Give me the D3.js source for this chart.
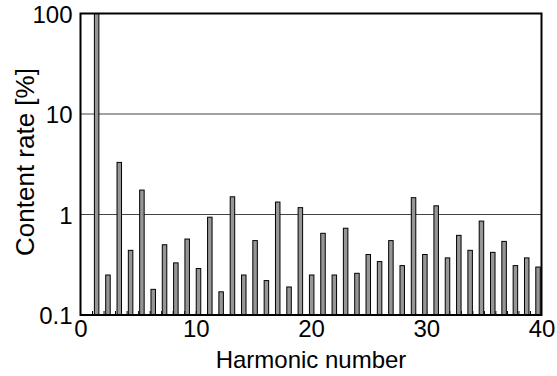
<!DOCTYPE html>
<html>
<head>
<meta charset="utf-8">
<script src="https://cdn.jsdelivr.net/npm/d3@7"></script>
<style>
  body { margin: 0; background: #fff; }
  svg text { font-family: "Liberation Sans", Arial, sans-serif; fill: #000; }
</style>
</head>
<body>
<script>
// harmonic orders and their content rate [%]
const harmonics = d3.range(1, 41);
const contentRate = [
    100, 0.25, 3.3, 0.44, 1.75, 0.18, 0.50, 0.33, 0.57, 0.29,
    0.94, 0.17, 1.50, 0.25, 0.55, 0.22, 1.33, 0.19, 1.17, 0.25,
    0.65, 0.25, 0.73, 0.26, 0.40, 0.34, 0.55, 0.31, 1.47, 0.40,
    1.22, 0.37, 0.62, 0.44, 0.86, 0.42, 0.54, 0.31, 0.37, 0.30
];
const yTicks = [0.1, 1, 10, 100];
const yTickLabels = ["0.1", "1", "10", "100"];
const xTicks = [0, 10, 20, 30, 40];
const gridValues = [1, 10];

const width = 557;
const height = 376;
const margin = {top: 13.5, right: 15.5, bottom: 61, left: 80.5};
const plotW = width - margin.left - margin.right;
const plotH = height - margin.top - margin.bottom;

const svg = d3.select("body")
    .append("svg")
    .attr("width", width)
    .attr("height", height);

const g = svg.append("g")
    .attr("transform", "translate(" + margin.left + "," + margin.top + ")");

const xScale = d3.scaleLinear()
    .domain([0, 40])
    .range([0, plotW]);

// bars sit slightly off the integer ticks in the original figure
const barScale = d3.scalePoint()
    .domain(harmonics)
    .range([xScale(1.4), xScale(39.7)]);

const yScale = d3.scaleLog()
    .domain([0.1, 100])
    .range([plotH, 0]);

// grid lines
g.selectAll(".grid")
    .data(gridValues)
    .enter().append("line")
    .attr("class", "grid")
    .attr("x1", 0)
    .attr("x2", plotW)
    .attr("y1", d => yScale(d))
    .attr("y2", d => yScale(d))
    .attr("stroke", "#444")
    .attr("stroke-width", 1);

// minor ticks at every harmonic, pointing inward
g.append("g")
    .attr("transform", "translate(0," + plotH + ")")
    .call(d3.axisBottom(xScale).tickValues(d3.range(1, 40)).tickSize(-4).tickFormat(""))
    .call(a => a.select(".domain").remove())
    .call(a => a.selectAll("line").attr("stroke", "#000"));

// bars
const barW = 4.5;
g.selectAll(".bar")
    .data(contentRate)
    .enter().append("rect")
    .attr("class", "bar")
    .attr("x", (d, i) => barScale(harmonics[i]) - barW / 2)
    .attr("width", barW)
    .attr("y", d => yScale(d))
    .attr("height", d => plotH - yScale(d))
    .attr("fill", "#969696")
    .attr("stroke", "#000")
    .attr("stroke-width", 1);

// frame
g.append("rect")
    .attr("x", 0)
    .attr("y", 0)
    .attr("width", plotW)
    .attr("height", plotH)
    .attr("fill", "none")
    .attr("stroke", "#000")
    .attr("stroke-width", 2);

// x tick labels
const xAxis = g.append("g")
    .attr("transform", "translate(0," + plotH + ")")
    .call(d3.axisBottom(xScale).tickValues(xTicks).tickSize(0).tickPadding(6));
xAxis.select(".domain").remove();
xAxis.selectAll("text")
    .attr("font-size", 24)
    .attr("dy", "0.72em")
    .attr("y", 5);

// y tick labels
const yAxis = g.append("g")
    .call(d3.axisLeft(yScale).tickValues(yTicks).tickSize(0).tickPadding(8)
        .tickFormat((d, i) => yTickLabels[i]));
yAxis.select(".domain").remove();
yAxis.selectAll("text")
    .attr("font-size", 24)
    .attr("dy", "0.36em");

// axis titles
svg.append("text")
    .attr("x", margin.left + plotW / 2)
    .attr("y", 368)
    .attr("text-anchor", "middle")
    .attr("font-size", 24)
    .text("Harmonic number");

svg.append("text")
    .attr("transform", "translate(34,162) rotate(-90)")
    .attr("text-anchor", "middle")
    .attr("font-size", 26)
    .text("Content rate [%]");
</script>
</body>
</html>
